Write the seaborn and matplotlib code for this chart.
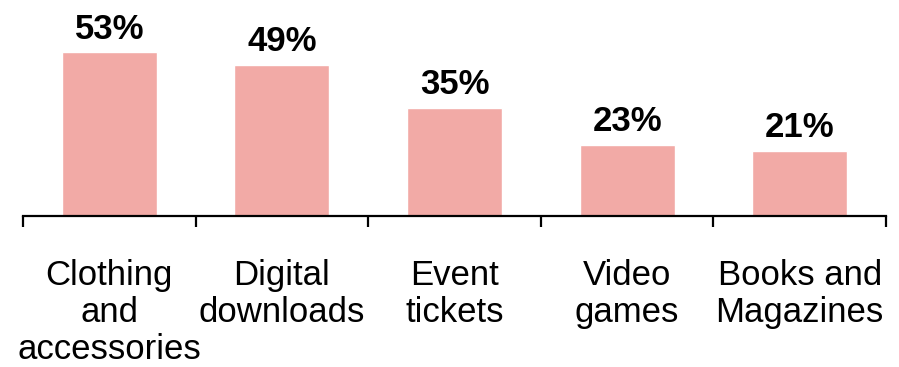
import matplotlib
matplotlib.use("Agg")
import matplotlib.pyplot as plt
import seaborn as sns
import pandas as pd
import numpy as np

categories = ["Clothing\nand\naccessories", "Digital\ndownloads", "Event\ntickets",
              "Video\ngames", "Books and\nMagazines"]
values = [53, 49, 35, 23, 21]
value_labels = ["53%", "49%", "35%", "23%", "21%"]

sns.set_style("white")
plt.rcParams["font.family"] = ["Liberation Sans", "DejaVu Sans"]

df = pd.DataFrame({"category": categories, "share": values})

fig = plt.figure(figsize=(8.99, 3.67), dpi=100)
ax = fig.add_axes([0.0256, 0.4114, 0.9599, 0.5886])

sns.barplot(data=df, x="category", y="share", color="#F2AAA6", saturation=1,
            width=0.55, ax=ax)

ax.set_xlim(-0.5, len(categories) - 0.5)
ax.set_ylim(0, 70)

for i, (v, lab) in enumerate(zip(values, value_labels)):
    ax.annotate(lab, xy=(i, v), xytext=(0, 10), textcoords="offset points",
                ha="center", va="baseline", fontsize=25, fontweight="bold",
                color="black")

for s in ["top", "right", "left"]:
    ax.spines[s].set_visible(False)
ax.spines["bottom"].set_color("black")
ax.spines["bottom"].set_linewidth(1.6)

ax.set_yticks([])
ax.set_xlabel("")
ax.set_ylabel("")
ax.set_xticks(range(len(categories)))
ax.set_xticklabels(categories, fontsize=25, linespacing=1.16, color="black")
ax.tick_params(axis="x", which="major", bottom=True, length=0, pad=31,
               labelcolor="black")
ax.set_xticks(np.arange(-0.5, len(categories)), minor=True)
ax.tick_params(axis="x", which="minor", bottom=True, length=8, width=1.6,
               color="black", direction="out")

fig.savefig("out.png", dpi=100)
